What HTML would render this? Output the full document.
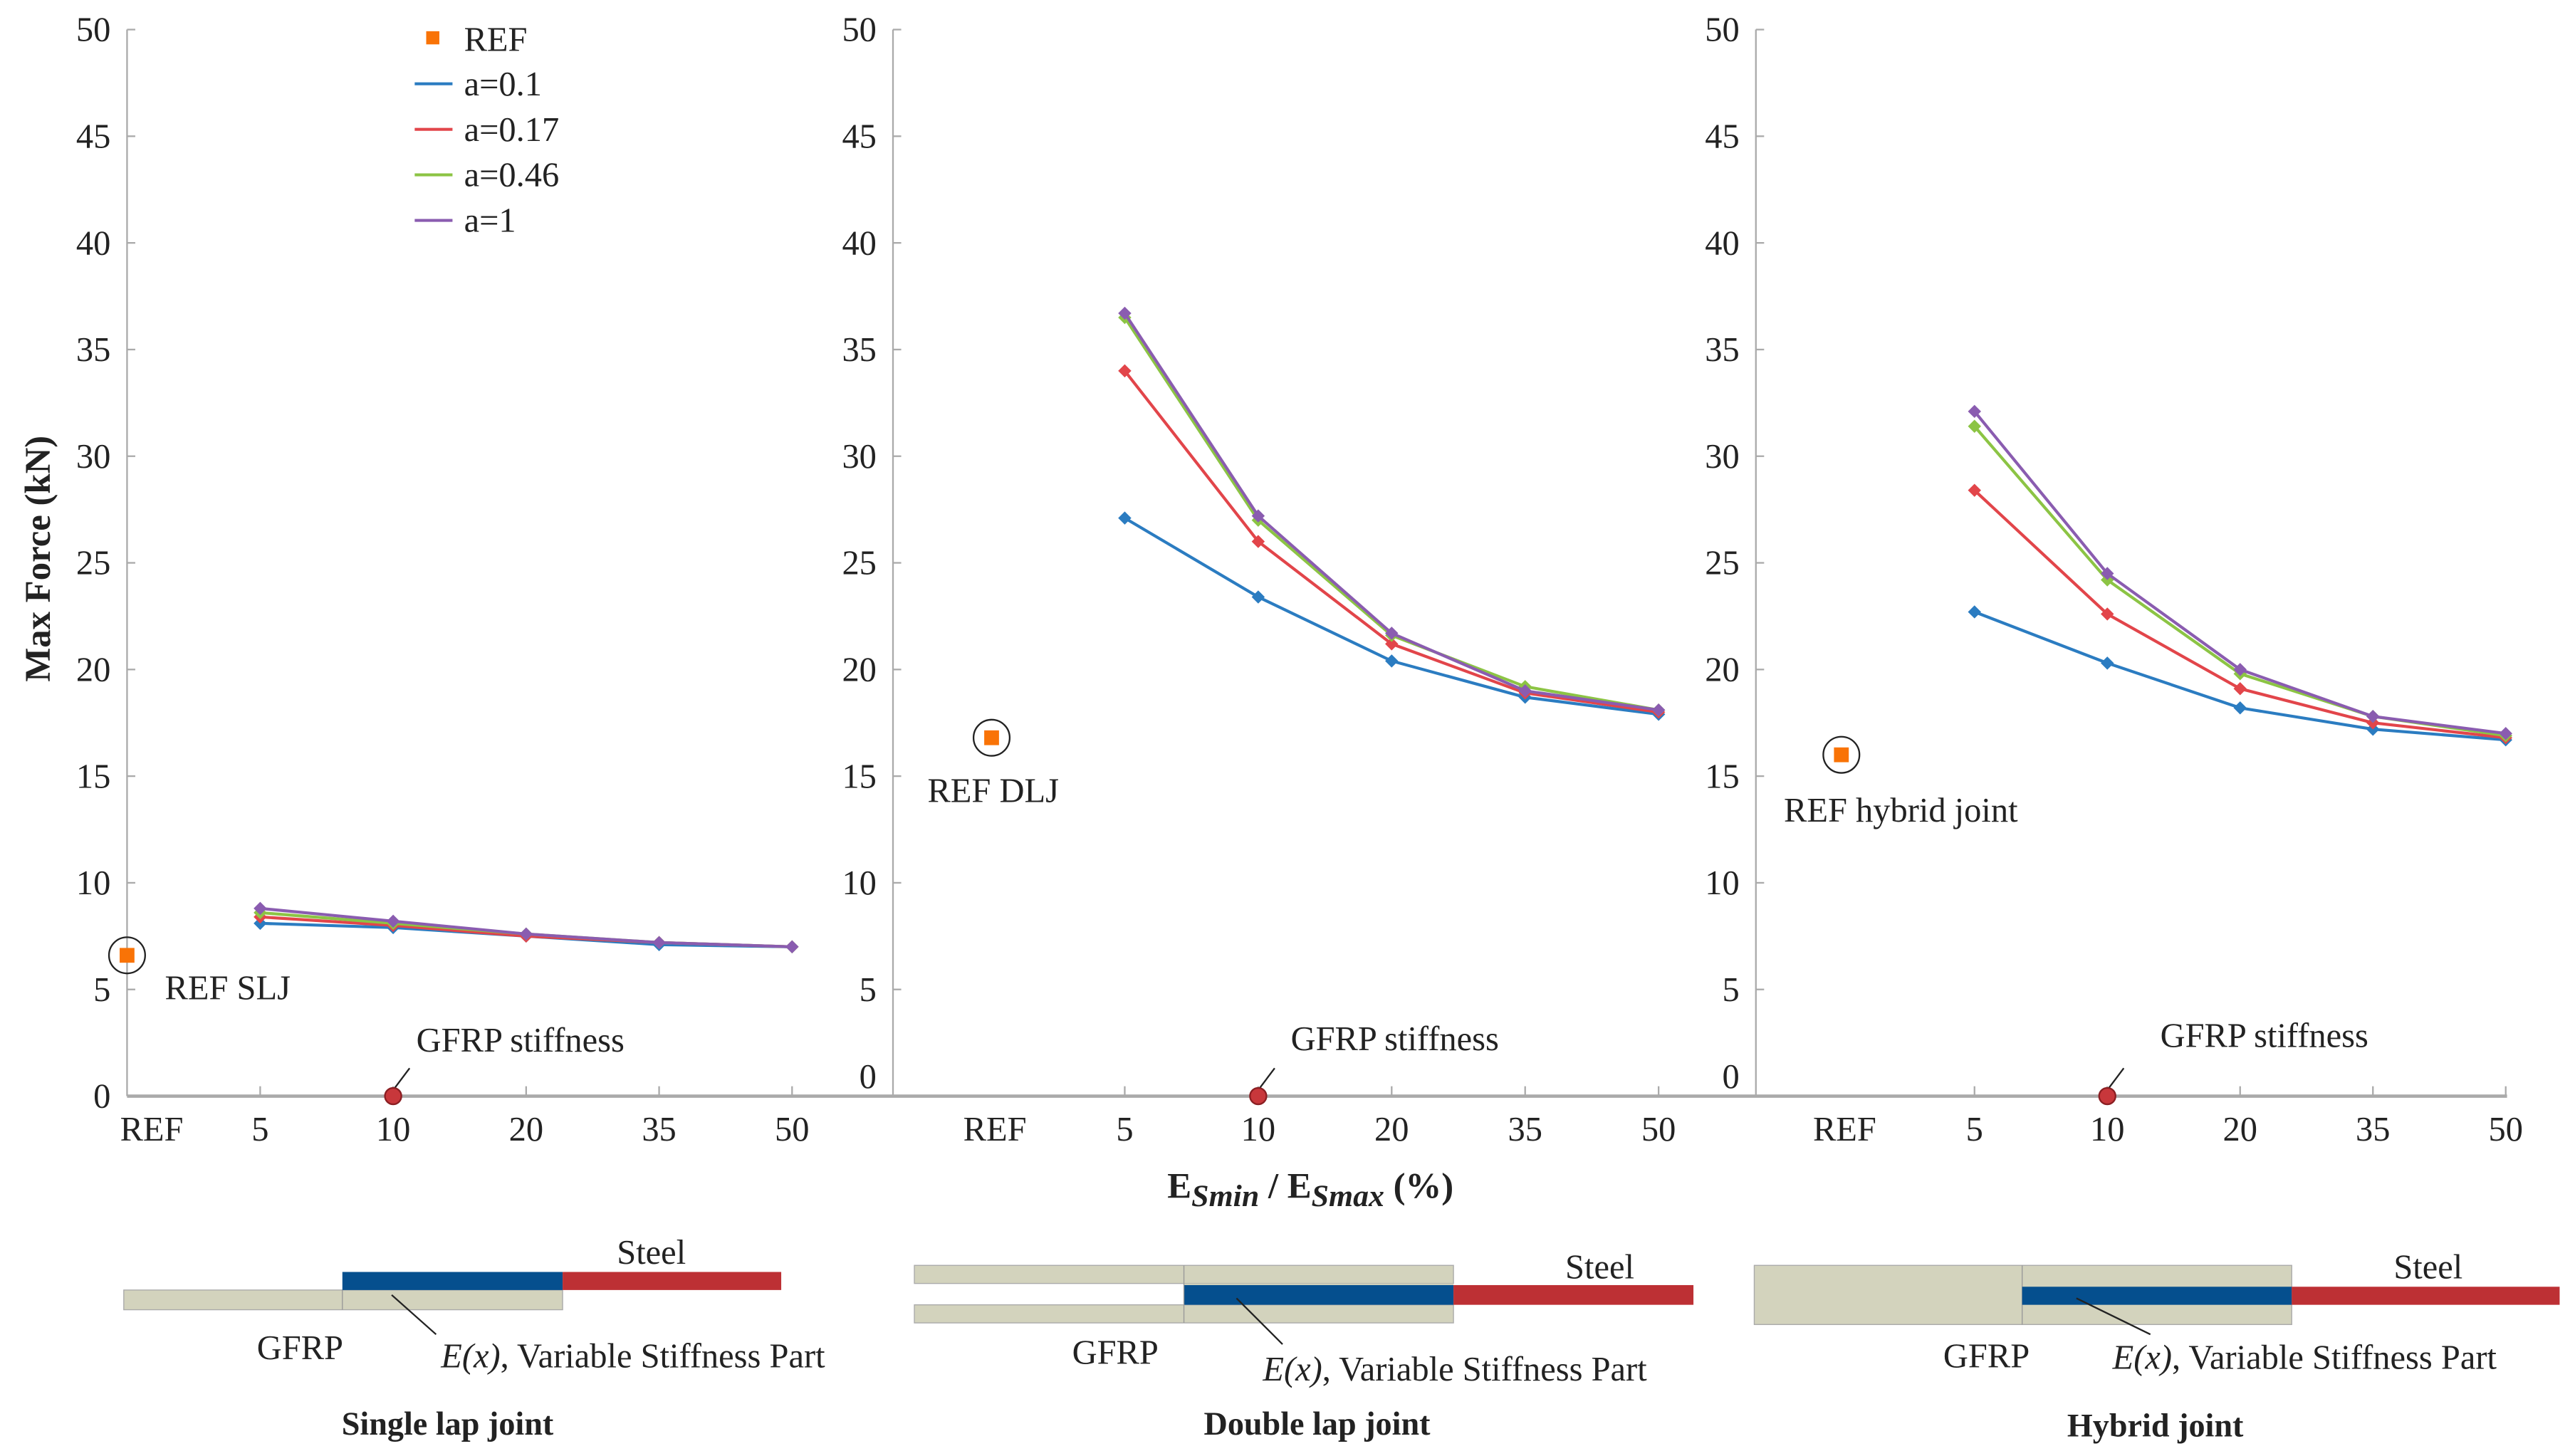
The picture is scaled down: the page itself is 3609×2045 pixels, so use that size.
<!DOCTYPE html>
<html><head><meta charset="utf-8"><style>
html,body{margin:0;padding:0;background:#fff}
svg{display:block}
text{font-family:"Liberation Serif","DejaVu Serif",serif;fill:#222}
</style></head><body>
<svg id="chart" width="3609" height="2045" viewBox="0 0 1563 886" xmlns="http://www.w3.org/2000/svg" font-family="Liberation Serif, DejaVu Serif, serif">
<g id="plots"></g>
<g id="diagrams">
 <rect x="75" y="785" width="267" height="12" fill="#d3d3bd" stroke="#aaa" stroke-width="0.6"/>
 <line x1="208" y1="785" x2="208" y2="797" stroke="#999" stroke-width="0.6"/>
 <rect x="208" y="774" width="134" height="11" fill="#054f8e"/>
 <rect x="342" y="774" width="133" height="11" fill="#bd3034"/>
 <text x="375" y="769" font-size="21" font-family="Liberation Serif, serif">Steel</text>
 <text x="156" y="827" font-size="21" font-family="Liberation Serif, serif">GFRP</text>
 <line x1="238" y1="788" x2="265" y2="812" stroke="#222" stroke-width="1"/>
 <text x="268" y="832" font-size="21" font-family="Liberation Serif, serif"><tspan font-style="italic">E(x)</tspan>, Variable Stiffness Part</text>
 <text x="272" y="873" font-size="20" font-weight="bold" text-anchor="middle" font-family="Liberation Serif, serif">Single lap joint</text>
 <rect x="556" y="770" width="328" height="11" fill="#d3d3bd" stroke="#aaa" stroke-width="0.6"/>
 <rect x="556" y="794" width="328" height="11" fill="#d3d3bd" stroke="#aaa" stroke-width="0.6"/>
 <rect x="720" y="781" width="164" height="13" fill="#d3d3bd"/>
 <rect x="720" y="782" width="164" height="12" fill="#054f8e"/>
 <rect x="884" y="782" width="146" height="12" fill="#bd3034"/>
 <line x1="720" y1="770" x2="720" y2="805" stroke="#999" stroke-width="0.6"/>
 <text x="952" y="778" font-size="21" font-family="Liberation Serif, serif">Steel</text>
 <text x="652" y="830" font-size="21" font-family="Liberation Serif, serif">GFRP</text>
 <line x1="752" y1="790" x2="780" y2="818" stroke="#222" stroke-width="1"/>
 <text x="768" y="840" font-size="21" font-family="Liberation Serif, serif"><tspan font-style="italic">E(x)</tspan>, Variable Stiffness Part</text>
 <text x="801" y="873" font-size="20" font-weight="bold" text-anchor="middle" font-family="Liberation Serif, serif">Double lap joint</text>
 <rect x="1067" y="770" width="327" height="36" fill="#d3d3bd" stroke="#aaa" stroke-width="0.6"/>
 <line x1="1230" y1="770" x2="1230" y2="806" stroke="#999" stroke-width="0.6"/>
 <rect x="1230" y="783" width="164" height="11" fill="#054f8e"/>
 <rect x="1394" y="783" width="163" height="11" fill="#bd3034"/>
 <text x="1456" y="778" font-size="21" font-family="Liberation Serif, serif">Steel</text>
 <text x="1182" y="832" font-size="21" font-family="Liberation Serif, serif">GFRP</text>
 <line x1="1263" y1="790" x2="1308" y2="812" stroke="#222" stroke-width="1"/>
 <text x="1285" y="833" font-size="21" font-family="Liberation Serif, serif"><tspan font-style="italic">E(x)</tspan>, Variable Stiffness Part</text>
 <text x="1311" y="874" font-size="20" font-weight="bold" text-anchor="middle" font-family="Liberation Serif, serif">Hybrid joint</text>
</g>
<text transform="translate(30,340) rotate(-90)" font-size="22" font-weight="bold" text-anchor="middle" font-family="Liberation Serif, serif">Max Force (kN)</text>
<text x="797" y="729" font-size="22" font-weight="bold" text-anchor="middle" font-family="Liberation Serif, serif">E<tspan font-style="italic" font-size="19" dy="5">Smin</tspan><tspan dy="-5"> / E</tspan><tspan font-style="italic" font-size="19" dy="5">Smax</tspan><tspan dy="-5"> (%)</tspan></text>
<g id="legend"></g>
</svg>
<script>
const categories = ["REF","5","10","20","35","50"];
const yTicks = [0,5,10,15,20,25,30,35,40,45,50];
const seriesNames = ["a=0.1","a=0.17","a=0.46","a=1"];
const seriesColors = ["#2b7cc1","#e2454a","#8cc444","#8a5cb0"];
const slj01 = [8.1,7.9,7.5,7.1,7.0];
const slj017 = [8.4,8.0,7.5,7.2,7.0];
const slj046 = [8.6,8.1,7.6,7.2,7.0];
const slj1 = [8.8,8.2,7.6,7.2,7.0];
const dlj01 = [27.1,23.4,20.4,18.7,17.9];
const dlj017 = [34.0,26.0,21.2,18.9,18.0];
const dlj046 = [36.5,27.0,21.6,19.2,18.1];
const dlj1 = [36.7,27.2,21.7,19.0,18.1];
const hyb01 = [22.7,20.3,18.2,17.2,16.7];
const hyb017 = [28.4,22.6,19.1,17.5,16.8];
const hyb046 = [31.4,24.2,19.8,17.8,16.9];
const hyb1 = [32.1,24.5,20.0,17.8,17.0];
const refValues = [6.6,16.8,16.0];
const refLabels = ["REF SLJ","REF DLJ","REF hybrid joint"];
const gfrpCategory = 2; const gfrpValue = 0;

const NS="http://www.w3.org/2000/svg";
const FF="Liberation Serif, serif";
function mk(tag,attrs,parent){const e=document.createElementNS(NS,tag);for(const k in attrs)e.setAttribute(k,attrs[k]);if(tag==='text')e.setAttribute('font-family',FF);parent.appendChild(e);return e;}
const panels=[
 {name:"slj",axisX:77,refX:77,refLabX:92,zeroY:674,x5:158,step:80.9,series:[slj01,slj017,slj046,slj1],refLab:[100,608],gfrpLab:[253,640]},
 {name:"dlj",axisX:543,refX:603,refLabX:605,zeroY:662,x5:684,step:81.2,series:[dlj01,dlj017,dlj046,dlj1],refLab:[564,488],gfrpLab:[785,639]},
 {name:"hybrid",axisX:1068,refX:1120,refLabX:1122,zeroY:662,x5:1201,step:80.8,series:[hyb01,hyb017,hyb046,hyb1],refLab:[1085,500],gfrpLab:[1314,637]}
];
const y0=667,y50=18;
function yS(v){return y0-(v/50)*(y0-y50);}
const root=document.getElementById('plots');
mk('line',{x1:77,y1:y0,x2:1525,y2:y0,stroke:'#aaa','stroke-width':2},root);
panels.forEach((p,pi)=>{
 const g=mk('g',{},root);
 
 
 const xS=i=> i===0?p.refX:p.x5+(i-1)*p.step;
 mk('line',{x1:p.axisX,y1:y50,x2:p.axisX,y2:y0,stroke:'#aaa','stroke-width':1},g);
 yTicks.forEach(t=>{
  mk('line',{x1:p.axisX,y1:yS(t),x2:p.axisX+5,y2:yS(t),stroke:'#aaa','stroke-width':1},g);
  const tx=mk('text',{x:p.axisX-10,y:t===0?p.zeroY:yS(t)+7,'font-size':21,'text-anchor':'end'},g);
  
  
  tx.textContent=t;
 });
 categories.forEach((c,i)=>{
  const x=xS(i);
  if(i>0) mk('line',{x1:x,y1:y0,x2:x,y2:y0-6,stroke:'#aaa','stroke-width':1},g);
  const tx=mk('text',{x:i===0?p.refLabX:x,y:694,'font-size':21,'text-anchor':'middle'},g);
  
  
  tx.textContent=c;
 });
 p.series.forEach((vals,si)=>{
  const pts=vals.map((v,i)=>xS(i+1)+','+yS(v)).join(' ');
  const l=mk('polyline',{points:pts,fill:'none',stroke:seriesColors[si],'stroke-width':1.8},g);
  
  
  vals.forEach((v,i)=>{
   const x=xS(i+1),y=yS(v);
   const d=mk('polygon',{points:`${x},${y-4} ${x+4},${y} ${x},${y+4} ${x-4},${y}`,fill:seriesColors[si]},g);
   
   
  });
 });
 const rx=xS(0),ry=yS(refValues[pi]);
 mk('circle',{cx:rx,cy:ry,r:11,fill:'none',stroke:'#222','stroke-width':1},g);
 const rm=mk('rect',{x:rx-4.5,y:ry-4.5,width:9,height:9,fill:'#f97306'},g);
 
 
 const rl=mk('text',{x:p.refLab[0],y:p.refLab[1],'font-size':21},g);
 
 
 rl.textContent=refLabels[pi];
 const gx=xS(gfrpCategory),gy=yS(gfrpValue);
 mk('line',{x1:gx+10,y1:gy-17,x2:gx+1,y2:gy-5,stroke:'#222','stroke-width':1},g);
 const gc=mk('circle',{cx:gx,cy:gy,r:5,fill:'#c8373b',stroke:'#8a1e22','stroke-width':1},g);
 
 
 const gl=mk('text',{x:p.gfrpLab[0],y:p.gfrpLab[1],'font-size':21},g);
 
 
 gl.textContent='GFRP stiffness';
});
const lg=document.getElementById('legend');
mk('rect',{x:259,y:19,width:8,height:8,fill:'#f97306'},lg);
const t0=mk('text',{x:282,y:31,'font-size':21},lg);


t0.textContent='REF';
seriesNames.forEach((n,i)=>{
 const y=51+i*27.7;
 mk('line',{x1:252,y1:y,x2:275,y2:y,stroke:seriesColors[i],'stroke-width':1.8},lg);
 const t=mk('text',{x:282,y:y+7,'font-size':21},lg);
 
 
 t.textContent=n;
});
</script>
</body></html>
